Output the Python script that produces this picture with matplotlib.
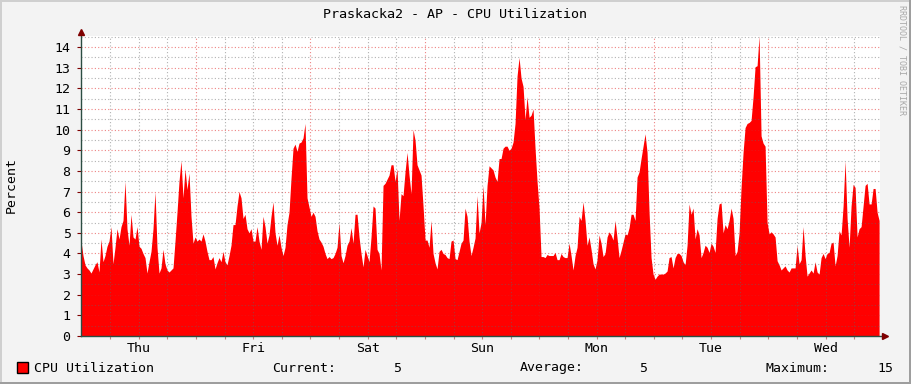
import numpy as np
import matplotlib
matplotlib.use("Agg")
import matplotlib.pyplot as plt
from matplotlib.patches import Rectangle
from matplotlib.lines import Line2D

# ---------------- data ----------------
title = "Praskacka2 - AP - CPU Utilization"
y_label = "Percent"
day_labels = ["Thu", "Fri", "Sat", "Sun", "Mon", "Tue", "Wed"]
series_name = "CPU Utilization"
legend_current = "5"
legend_average = "5"
legend_maximum = "15"
watermark = "RRDTOOL / TOBI OETIKER"

start_hour = -0.11          # hours after Thu 00:00 of the first sample
sample_step_hours = 0.4194  # time between samples
end_hour = 167.42           # right end of the time axis
y_max = 14.54

cpu_percent = [
    4.6, 3.9, 3.45, 3.3, 3.2, 3.05, 3.25, 3.45, 3.6, 3.1,
    4.7, 3.6, 3.9, 4.35, 4.6, 5.3, 3.5, 4.3, 5.2, 4.7,
    5.3, 5.6, 7.5, 5.2, 4.4, 5.9, 4.8, 4.7, 5.3, 4.35,
    4.25, 4.0, 3.8, 3.05, 3.6, 4.1, 5.2, 7.0, 4.3, 3.05,
    3.3, 4.2, 3.5, 3.2, 3.1, 3.2, 3.3, 4.6, 6.0, 7.5,
    8.5, 6.7, 8.1, 7.1, 7.9, 5.8, 4.5, 4.8, 4.6, 4.7,
    4.6, 4.95, 4.6, 4.1, 3.7, 3.7, 3.85, 3.25, 3.55, 3.8,
    3.6, 4.1, 3.6, 3.45, 3.9, 4.4, 5.4, 5.4, 6.3, 7.0,
    6.7,
    5.7, 5.9, 5.2, 5.0, 5.2, 4.6, 4.6, 5.3, 4.6, 4.2,
    5.8, 5.3, 4.5, 4.9, 5.8, 6.5, 5.0, 4.4, 4.9, 4.3,
    3.9, 4.3, 5.4, 6.0, 7.65, 9.1, 9.3, 8.95, 9.35, 9.4,
    9.6, 10.3, 6.7, 6.25, 5.8, 6.0, 5.8, 5.1, 4.7, 4.55,
    4.35, 4.0, 3.75, 3.85, 3.75, 3.8, 4.0, 4.3, 5.5, 3.9,
    3.55, 3.9, 4.4, 4.6, 5.25, 4.5, 5.9, 5.9, 4.8, 4.0,
    3.35, 4.2, 3.9, 3.6, 4.8, 6.3, 6.2, 4.2, 4.0, 3.2,
    7.3, 7.4, 7.6, 7.8, 8.3, 8.3, 7.5, 8.1, 5.6, 6.9,
    6.8, 7.95, 8.9, 7.8, 6.9, 10.0, 9.5, 8.3, 8.05, 7.8,
    6.3, 4.65, 4.65, 4.3, 5.6, 4.0, 3.55, 3.25, 4.1, 4.2,
    4.0, 3.95, 3.8, 3.75, 4.6, 4.65, 3.75, 3.7, 4.1, 4.5,
    4.65, 6.2, 5.8, 4.6, 3.9, 4.3, 4.75, 6.8, 5.0, 5.5,
    7.3, 5.4, 7.3, 8.25, 8.15, 8.05, 7.7, 7.5, 8.6, 8.6,
    9.1, 9.2, 9.2, 9.0, 9.1, 9.4, 10.3, 12.6, 13.5, 12.5,
    12.1, 10.5, 11.6, 10.6, 10.7, 11.0, 9.1, 7.5, 6.2, 3.85,
    3.85, 3.8, 3.95, 3.9, 3.9, 3.9, 4.05, 3.7, 3.7, 4.0,
    3.85, 3.8, 3.8, 4.5, 3.9, 3.2, 3.9, 4.3, 5.8, 5.6,
    6.5, 5.6, 4.4, 4.8, 4.2, 3.5, 3.25, 3.7, 4.9, 4.5,
    3.85, 4.0, 4.8, 5.05, 4.9, 4.65, 5.6, 4.75, 3.8, 4.15,
    4.55, 4.95, 4.9, 5.25, 5.9, 5.9, 5.6, 7.7, 7.95, 8.6,
    9.2, 9.8, 8.9, 6.0, 3.8, 3.0, 2.75, 2.9, 3.0, 3.0,
    3.0, 3.05, 3.15, 3.8, 3.85, 3.3, 3.8, 4.0, 4.0, 3.9,
    3.6, 3.45, 4.4, 6.4, 5.9, 6.2, 4.7, 5.2, 4.9, 3.8,
    4.05, 4.4, 4.3, 4.05, 4.5, 4.35, 4.05, 5.7, 6.4, 6.45,
    5.0, 5.4, 5.2, 5.6, 6.2, 5.7, 3.9, 4.1, 5.0, 7.2,
    8.9, 10.1, 10.3, 10.35, 10.45, 11.6, 13.05, 13.1, 14.55, 9.7,
    9.35, 9.2, 5.5, 4.95, 5.05, 4.95, 4.8, 3.65, 3.45, 3.2,
    3.3, 3.4, 3.2, 3.1, 3.3, 3.3, 3.3, 4.4, 3.5, 3.7,
    5.3, 3.9, 2.9, 3.05, 3.2, 3.05, 3.6, 3.1, 3.0, 3.8,
    4.0, 3.75, 4.0, 4.05, 4.5, 4.55, 3.4, 3.9, 5.1, 4.9,
    6.3, 8.5, 5.7, 4.3, 6.3, 7.35, 7.2, 4.8, 5.2, 5.3,
    6.3, 7.3, 7.4, 6.4, 6.4, 7.15, 7.15, 6.0, 5.6,
]

# ---------------- figure ----------------
W, H = 911, 384
MONO = "DejaVu Sans Mono"
fig = plt.figure(figsize=(W / 100, H / 100), dpi=100, facecolor="#F3F3F3")


def fx(x):
    return x / W


def fy(y):
    return 1 - y / H


# canvas frame (shaded border)
fig.add_artist(Rectangle((0, 0), 1, 1, transform=fig.transFigure,
                         facecolor="#F3F3F3", edgecolor="none", zorder=0))
fig.add_artist(Rectangle((0, fy(2)), 1, 2 / H, transform=fig.transFigure,
                         facecolor="#CFCFCF", edgecolor="none", zorder=1))
fig.add_artist(Rectangle((0, 0), 2 / W, 1, transform=fig.transFigure,
                         facecolor="#CFCFCF", edgecolor="none", zorder=1))
fig.add_artist(Rectangle((0, 0), 1, 2 / H, transform=fig.transFigure,
                         facecolor="#9E9E9E", edgecolor="none", zorder=1))
fig.add_artist(Rectangle((1 - 2 / W, 0), 2 / W, 1, transform=fig.transFigure,
                         facecolor="#9E9E9E", edgecolor="none", zorder=1))

left_px, right_px, top_px, bottom_px = 81, 880, 36, 336
ax = fig.add_axes([fx(left_px), fy(bottom_px), (right_px - left_px) / W,
                   (bottom_px - top_px) / H])
ax.set_facecolor("white")
for s in ax.spines.values():
    s.set_visible(False)

t = start_hour + np.arange(len(cpu_percent)) * sample_step_hours
ax.fill_between(t, cpu_percent, 0, color="#FF0000", linewidth=0, zorder=2)

ax.set_xlim(start_hour, end_hour)
ax.set_ylim(0, y_max)

# grid (drawn on top of the area, like rrdtool)
minor_col = (0.4, 0.4, 0.4, 0.5)
major_col = (0.88, 0.12, 0.12, 0.55)
dot = (0, (1, 2))
for v in np.arange(0.5, y_max, 0.5):
    col = major_col if abs(v - round(v)) < 1e-6 else minor_col
    ax.axhline(v, color=col, lw=0.8, ls=dot, zorder=3)
for h in range(6, int(end_hour) + 1, 6):
    col = major_col if h % 24 == 0 else minor_col
    ax.axvline(h, color=col, lw=0.8, ls=dot, zorder=3)

# ticks
ax.set_yticks(range(0, 15))
ax.set_yticklabels([str(i) for i in range(0, 15)], fontfamily=MONO, fontsize=9.5)
ax.tick_params(axis="y", length=3, width=0.8, color="#7F0000", pad=4.5, labelcolor="black")
noon = [12 + 24 * i for i in range(len(day_labels))]
ax.set_xticks(noon)
ax.set_xticklabels(day_labels, fontfamily=MONO, fontsize=9.5)
ax.set_xticks([h for h in range(6, int(end_hour) + 1, 6)], minor=True)
ax.tick_params(axis="x", which="both", length=2, width=0.8, color="#C08080", pad=2,
               labelcolor="black")

# axes with arrows
axis_col = "#2C4D43"
arrow_col = "#7F0000"
ax.add_line(Line2D([0, 0], [0, 1.01], transform=ax.transAxes, color=axis_col,
                   lw=1.0, clip_on=False, zorder=5))
ax.add_line(Line2D([0, 1.004], [0, 0], transform=ax.transAxes, color=axis_col,
                   lw=1.0, clip_on=False, zorder=5))
ax.plot([0], [1.015], transform=ax.transAxes, marker="^", markersize=4.5,
        color=arrow_col, clip_on=False, zorder=6)
ax.plot([1.006], [0], transform=ax.transAxes, marker=">", markersize=4.5,
        color=arrow_col, clip_on=False, zorder=6)

# texts
fig.text(fx(455), fy(14), title, ha="center", va="center", fontfamily=MONO,
         fontsize=9.6, color="black")
fig.text(fx(11), fy(185), y_label, ha="center", va="center", rotation=90,
         fontfamily=MONO, fontsize=9.5, color="black")
fig.text(fx(902), fy(5), watermark, ha="center", va="top", rotation=-90,
         fontfamily=MONO, fontsize=6.0, color="#A8A8A8")

# legend row
fig.add_artist(Rectangle((fx(17), fy(373)), 11 / W, 11 / H, transform=fig.transFigure,
                         facecolor="#FF0000", edgecolor="black", linewidth=1.0))
ly = fy(368)
fig.text(fx(34), ly, series_name, ha="left", va="center", fontfamily=MONO, fontsize=9.5)
fig.text(fx(272), ly, "Current:", ha="left", va="center", fontfamily=MONO, fontsize=9.5)
fig.text(fx(401), ly, legend_current, ha="right", va="center", fontfamily=MONO, fontsize=9.5)
fig.text(fx(520), ly, "Average:", ha="left", va="center", fontfamily=MONO, fontsize=9.5)
fig.text(fx(647), ly, legend_average, ha="right", va="center", fontfamily=MONO, fontsize=9.5)
fig.text(fx(765), ly, "Maximum:", ha="left", va="center", fontfamily=MONO, fontsize=9.5)
fig.text(fx(893), ly, legend_maximum, ha="right", va="center", fontfamily=MONO, fontsize=9.5)

fig.savefig("out.png", dpi=100, facecolor=fig.get_facecolor())
